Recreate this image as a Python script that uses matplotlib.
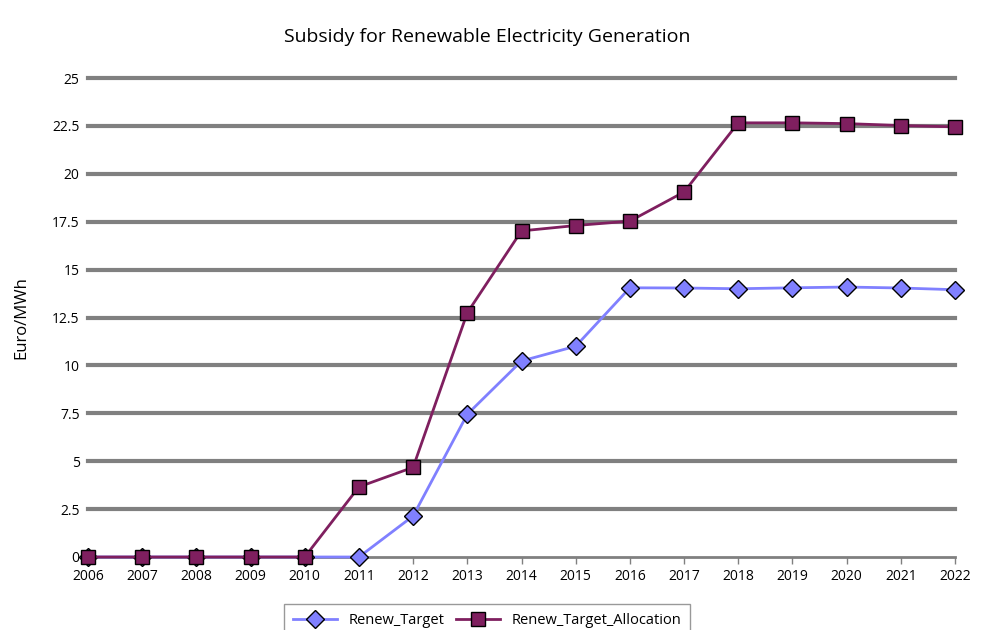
import matplotlib.pyplot as plt

plt.rcParams['font.family'] = ['Open Sans', 'DejaVu Sans']

years = list(range(2006, 2023))
renew_target = [0, 0, 0, 0, 0, 0, 2.14, 7.45, 10.23, 11.0, 14.05, 14.04, 14.0, 14.05, 14.09, 14.04, 13.95]
renew_alloc = [0, 0, 0, 0, 0, 3.66, 4.68, 12.75, 17.02, 17.3, 17.53, 19.05, 22.66, 22.66, 22.62, 22.52, 22.45]
yticks = [0, 2.5, 5, 7.5, 10, 12.5, 15, 17.5, 20, 22.5, 25]
ytick_labels = ['0', '2.5', '5', '7.5', '10', '12.5', '15', '17.5', '20', '22.5', '25']

fig = plt.figure(figsize=(9.81, 6.3), dpi=100)
ax = fig.add_axes([88 / 981, 1 - 557 / 630, (955 - 88) / 981, (557 - 78) / 630])

# gridlines, thick grey like the original
for yv in yticks[1:]:
    ax.axhline(yv, color='#808080', linewidth=3, zorder=1, clip_on=False)

ax.plot(years, renew_target, color='#8080FF', linewidth=2, marker='D', markersize=9.5,
        markerfacecolor='#8080FF', markeredgecolor='black', markeredgewidth=1,
        label='Renew_Target', clip_on=False, zorder=3)
ax.plot(years, renew_alloc, color='#7F1F5F', linewidth=2, marker='s', markersize=9.5,
        markerfacecolor='#7F1F5F', markeredgecolor='black', markeredgewidth=1,
        label='Renew_Target_Allocation', clip_on=False, zorder=4)

ax.set_xlim(2006, 2022)
ax.set_ylim(0, 25)
ax.set_xticks(years)
ax.set_xticklabels([str(y) for y in years], fontsize=10)
ax.set_yticks(yticks)
ax.set_yticklabels(ytick_labels, fontsize=10)
ax.tick_params(axis='y', length=0, pad=6)
ax.tick_params(axis='x', length=5, width=1, color='#808080', pad=4)

for s in ['top', 'right', 'left']:
    ax.spines[s].set_visible(False)
ax.spines['bottom'].set_color('#808080')
ax.spines['bottom'].set_linewidth(2)

ax.set_ylabel('Euro/MWh', fontsize=12, labelpad=16)
fig.text(487 / 981, 1 - 37 / 630, 'Subsidy for Renewable Electricity Generation',
         ha='center', va='center', fontsize=14)

leg = fig.legend(loc='upper center', bbox_to_anchor=(487 / 981, 1 - 597 / 630), ncol=2,
                 fontsize=10.5, frameon=True, fancybox=False, edgecolor='#808080',
                 borderpad=0.6, handlelength=3, columnspacing=0.8, handletextpad=0.8)
leg.get_frame().set_linewidth(1)

fig.savefig('out.png', dpi=100)
